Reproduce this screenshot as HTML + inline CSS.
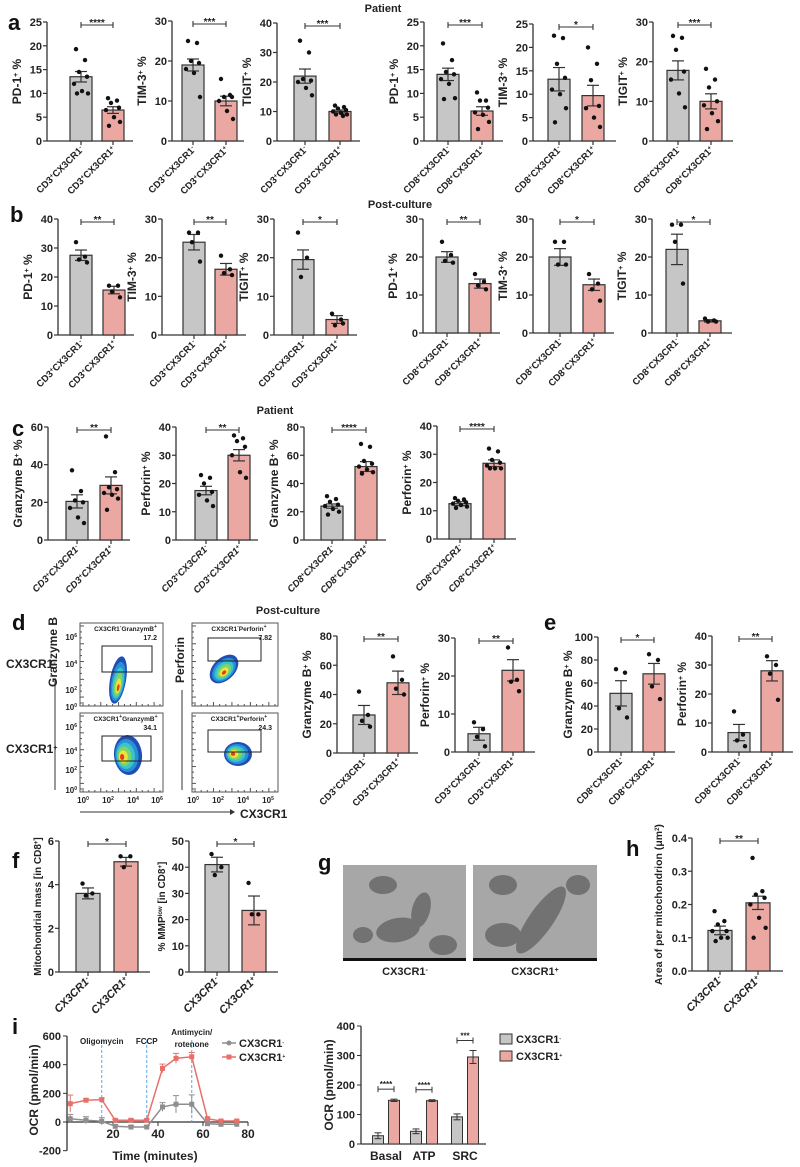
<!DOCTYPE html>
<html><head><meta charset="utf-8"><title>CX3CR1 figure</title>
<style>
html,body{margin:0;padding:0;background:#fff;}
svg{display:block;font-family:"Liberation Sans",sans-serif;}
.t{font-weight:bold;font-size:11px;fill:#222;}
.tk{font-weight:bold;font-size:11px;fill:#222;}
.xl{font-weight:bold;font-size:9.5px;fill:#222;}
.pl{font-weight:bold;font-size:22px;fill:#111;}
</style></head><body>
<svg id="fig" width="800" height="1167" viewBox="0 0 800 1167" xmlns="http://www.w3.org/2000/svg">
<text x="383" y="12" text-anchor="middle" class="t">Patient</text>
<text x="400" y="208" text-anchor="middle" class="t">Post-culture</text>
<text x="275" y="414" text-anchor="middle" class="t">Patient</text>
<text x="288" y="614" text-anchor="middle" class="t">Post-culture</text>
<text x="8" y="30" class="pl">a</text>
<text x="10" y="222" class="pl">b</text>
<text x="12" y="436" class="pl">c</text>
<text x="12" y="630" class="pl">d</text>
<text x="544" y="630" class="pl">e</text>
<text x="12" y="868" class="pl">f</text>
<text x="318" y="870" class="pl">g</text>
<text x="626" y="856" class="pl">h</text>
<text x="12" y="1034" class="pl">i</text>
</svg>
<script>
// ---- bar panel data ----
const a1Neg=[19.3,17,14.5,13.5,12,10.5,10,10], a1Pos=[9,8.5,8,7,6.5,5,4,3.2], a1Mean=[13.5,6.5], a1Err=[1.1,0.7];
const a2Neg=[25,24.5,20,19.5,18,17,11], a2Pos=[15.5,11.5,11,11,10,7.5,5.5], a2Mean=[19,10], a2Err=[1.5,1.2];
const a3Neg=[34,30,21,20.5,20,18,15.5], a3Pos=[12,11.5,11,10.5,10,9.5,9,9,8.5], a3Mean=[22,10], a3Err=[2.4,0.5];
const a4Neg=[20.5,17,14.5,14,13,12,9,8.8], a4Pos=[10.2,8.5,8.5,7,6,5.5,4,2.5], a4Mean=[14,6.3], a4Err=[1.3,0.9];
const a5Neg=[22.5,22,16.5,13.5,11,10,7,4], a5Pos=[20,16.5,13,7.5,7,5,3], a5Mean=[13.2,9.7], a5Err=[2.5,2.2];
const a6Neg=[26.5,26,23,17.5,15.5,12,8.5], a6Pos=[18.2,15.5,13.5,10,9,7,5,3], a6Mean=[17.8,10], a6Err=[2.4,1.9];
const b1Neg=[32,27,26,25], b1Pos=[17,17,15,13], b1Mean=[27.5,15.5], b1Err=[1.8,1.3];
const b2Neg=[26.5,26.5,24,19], b2Pos=[20.5,17,16,15.5], b2Mean=[24,17], b2Err=[2,1.5];
const b3Neg=[26.5,20,15], b3Pos=[5.5,4,2.5,3], b3Mean=[19.5,4], b3Err=[2.5,1];
const b4Neg=[24,20.5,19,18.5], b4Pos=[15.5,13.5,12.5,11.5], b4Mean=[20,13], b4Err=[1.4,1.2];
const b5Neg=[24,24,18,18], b5Pos=[15.5,13,11.5,8.5], b5Mean=[20,12.7], b5Err=[2.2,1.5];
const b6Neg=[28.5,28.5,24,13], b6Pos=[3.8,3.3,3,3], b6Mean=[22,3.2], b6Err=[4,0.3];
const c1Neg=[37,26,21,20,17,12,9], c1Pos=[55,36,28,27,25,24,22,16], c1Mean=[20.5,29], c1Err=[3.5,4.5];
const c2Neg=[23,22,20,17,16,14,12], c2Pos=[37,36,35,33,30,24,22], c2Mean=[17.5,30], c2Err=[1.5,2];
const c3Neg=[31,29,27,25,24,22,20,18], c3Pos=[68,66,56,54,52,50,48,47], c3Mean=[24,52], c3Err=[1.5,3.5];
const c4Neg=[14.5,14,13.5,13,12.5,12,11.5,11], c4Pos=[32,31,28,27,26,25,25,25], c4Mean=[12.5,26.8], c4Err=[0.7,1.2];
const d1Neg=[42,26,22,18], d1Pos=[66,50,44,40], d1Mean=[26,48], d1Err=[6.5,8];
const d2Neg=[7.8,6,4,1.5], d2Pos=[27.5,19,18.5,16], d2Mean=[4.8,21.5], d2Err=[1.7,2.8];
const e1Neg=[72,69,38,30], e1Pos=[85,80,57,46], e1Mean=[51,68], e1Err=[11,9];
const e2Neg=[14,6,4,2], e2Pos=[33,30,27,18], e2Mean=[6.7,28], e2Err=[2.8,3.5];
const f1Neg=[4.05,3.6,3.5], f1Pos=[5.3,5.3,4.8], f1Mean=[3.6,5.05], f1Err=[0.25,0.2];
const f2Neg=[45,40,37], f2Pos=[34,22,22], f2Mean=[41,23.5], f2Err=[2.8,5.5];
const hNeg=[0.18,0.15,0.14,0.12,0.12,0.1,0.1,0.09], hPos=[0.34,0.24,0.23,0.22,0.2,0.16,0.13,0.1], hMean=[0.122,0.205], hErr=[0.013,0.02];
// ---- panel i data ----
const iTimes=[1,8,15,21,28,35,42,48,55,62,68,75];
const iPosMean=[128,152,156,12,12,12,374,444,455,23,7,7];
const iPosErr=[60,10,12,8,8,8,30,35,30,10,6,6];
const iNegMean=[23,12,5,-30,-35,-35,105,124,124,-12,-16,-16];
const iNegErr=[30,25,25,10,10,10,30,60,65,10,10,10];
const iInjTimes=[15,35,55];
const iCats=["Basal","ATP","SRC"];
const iBarNeg=[28,43,92], iBarNegErr=[10,8,10];
const iBarPos=[148,147,295], iBarPosErr=[4,3,22];
const iSig=["****","****","***"];

const NS="http://www.w3.org/2000/svg";
const svg=document.getElementById('fig');
function mk(tag,attrs,parent){const e=document.createElementNS(NS,tag);for(const k in attrs)e.setAttribute(k,attrs[k]);(parent||svg).appendChild(e);return e;}
function txt(x,y,s,cls,parent,extra){
  const ex=Object.assign({},extra||{});
  let st='';
  if(ex['font-size']!==undefined){st+='font-size:'+ex['font-size']+'px;';delete ex['font-size'];}
  if(ex['font-style']!==undefined){st+='font-style:'+ex['font-style']+';';delete ex['font-style'];}
  const a=Object.assign({x:x,y:y,class:cls},ex);
  if(st)a.style=st;
  const e=mk('text',a,parent);e.innerHTML=s;return e;}
const GRAY="#c6c6c6",PINK="#eba8a2",STK="#333";
const jit=[-5,4,-2,6,-7,1,7,-4,3];

function barPanel(p){
  const g=mk('g',{},svg);
  
  
  const sy=v=>p.y0-(v/p.max)*(p.y0-p.yTop);
  const w=p.w||22;
  const ya=mk('line',{x1:p.ax,y1:sy(p.max),x2:p.ax,y2:p.y0,stroke:STK,'stroke-width':1.3},g);
  
  const xa=mk('line',{x1:p.ax,y1:p.y0,x2:p.end,y2:p.y0,stroke:STK,'stroke-width':1.3},g);
  
  p.ticks.forEach(t=>{
    mk('line',{x1:p.ax-4,y1:sy(t),x2:p.ax,y2:sy(t),stroke:STK,'stroke-width':1.2},g);
    const tl=txt(p.ax-5,sy(t)+4,p.tfmt?p.tfmt(t):t,'tk',g,{'text-anchor':'end'});
    
  });
  const groups=[p.neg,p.pos],cols=[GRAY,PINK];
  for(let i=0;i<2;i++){
    const cx=p.cx[i],m=p.mean[i],er=p.err[i];
    const r=mk('rect',{x:cx-w/2,y:sy(m),width:w,height:p.y0-sy(m),fill:cols[i],stroke:STK,'stroke-width':1.2},g);
    
    mk('line',{x1:cx,y1:p.y0,x2:cx,y2:p.y0+4,stroke:STK,'stroke-width':1.2},g);
    mk('line',{x1:cx,y1:sy(m+er),x2:cx,y2:sy(m-er),stroke:STK,'stroke-width':1.2},g);
    mk('line',{x1:cx-6,y1:sy(m+er),x2:cx+6,y2:sy(m+er),stroke:STK,'stroke-width':1.2},g);
    mk('line',{x1:cx-6,y1:sy(m-er),x2:cx+6,y2:sy(m-er),stroke:STK,'stroke-width':1.2},g);
    groups[i].forEach((v,k)=>{
      const c=mk('circle',{cx:cx+jit[k%jit.length]*(w/22),cy:sy(v),r:2.2,fill:'#111'},g);
      
    });
    const xl=txt(cx+3,p.y0+9,p.xl[i],'xl',g,{'text-anchor':'end',transform:`rotate(-45 ${cx+3} ${p.y0+9})`,'font-style':p.it?'italic':'normal','font-size':p.xfs||9.5});
    
  }
  const by=sy(p.max)+3;
  mk('line',{x1:p.cx[0],y1:by,x2:p.cx[1],y2:by,stroke:STK,'stroke-width':1.1},g);
  mk('line',{x1:p.cx[0],y1:by-3,x2:p.cx[0],y2:by+3,stroke:STK,'stroke-width':1.1},g);
  mk('line',{x1:p.cx[1],y1:by-3,x2:p.cx[1],y2:by+3,stroke:STK,'stroke-width':1.1},g);
  const st=txt((p.cx[0]+p.cx[1])/2,by+1,p.sig,'tk',g,{'text-anchor':'middle','font-size':10});
  
  const ly=(sy(p.max)+p.y0)/2, lx=p.ax-(p.lo||26);
  const yl=txt(lx,ly,p.yl,'t',g,{'text-anchor':'middle',transform:`rotate(-90 ${lx} ${ly})`,'font-size':p.yfs||12});
  
}
const n3=['CD3<tspan baseline-shift="super" style="font-size:6px">+</tspan>CX3CR1<tspan baseline-shift="super" style="font-size:6px">-</tspan>','CD3<tspan baseline-shift="super" style="font-size:6px">+</tspan>CX3CR1<tspan baseline-shift="super" style="font-size:6px">+</tspan>'];
const n8=['CD8<tspan baseline-shift="super" style="font-size:6px">+</tspan>CX3CR1<tspan baseline-shift="super" style="font-size:6px">-</tspan>','CD8<tspan baseline-shift="super" style="font-size:6px">+</tspan>CX3CR1<tspan baseline-shift="super" style="font-size:6px">+</tspan>'];
const nc=['CX3CR1<tspan baseline-shift="super" style="font-size:7px">-</tspan>','CX3CR1<tspan baseline-shift="super" style="font-size:7px">+</tspan>'];
const sp=s=>s+'<tspan baseline-shift="super" style="font-size:7px">+</tspan> %';
const T=(n,s)=>{const a=[];for(let v=0;v<=n+1e-9;v+=s)a.push(+v.toFixed(2));return a;};
const P=[
 {id:'a1',ax:47,y0:141,yTop:22,max:25,ticks:T(25,5),cx:[81,113],end:133,neg:a1Neg,pos:a1Pos,mean:a1Mean,err:a1Err,sig:'****',yl:sp('PD-1'),xl:n3},
 {id:'a2',ax:172,y0:141,yTop:21,max:30,ticks:T(30,10),cx:[193,226],end:244,neg:a2Neg,pos:a2Pos,mean:a2Mean,err:a2Err,sig:'***',yl:sp('TIM-3'),xl:n3},
 {id:'a3',ax:277,y0:141,yTop:23,max:40,ticks:T(40,10),cx:[305,340],end:360,neg:a3Neg,pos:a3Pos,mean:a3Mean,err:a3Err,sig:'***',yl:sp('TIGIT'),xl:n3},
 {id:'a4',ax:424,y0:141,yTop:22,max:25,ticks:T(25,5),cx:[448,482],end:503,neg:a4Neg,pos:a4Pos,mean:a4Mean,err:a4Err,sig:'***',yl:sp('PD-1'),xl:n8},
 {id:'a5',ax:533,y0:141,yTop:24,max:25,ticks:T(25,5),cx:[559,593],end:616,neg:a5Neg,pos:a5Pos,mean:a5Mean,err:a5Err,sig:'*',yl:sp('TIM-3'),xl:n8},
 {id:'a6',ax:653,y0:141,yTop:22,max:30,ticks:T(30,10),cx:[678,711],end:733,neg:a6Neg,pos:a6Pos,mean:a6Mean,err:a6Err,sig:'***',yl:sp('TIGIT'),xl:n8},
 {id:'b1',ax:58,y0:335,yTop:219,max:40,ticks:T(40,10),cx:[81,114],end:134,neg:b1Neg,pos:b1Pos,mean:b1Mean,err:b1Err,sig:'**',yl:sp('PD-1'),xl:n3},
 {id:'b2',ax:162,y0:335,yTop:219,max:30,ticks:T(30,10),cx:[194,226],end:246,neg:b2Neg,pos:b2Pos,mean:b2Mean,err:b2Err,sig:'**',yl:sp('TIM-3'),xl:n3},
 {id:'b3',ax:274,y0:335,yTop:219,max:30,ticks:T(30,10),cx:[303,337],end:357,neg:b3Neg,pos:b3Pos,mean:b3Mean,err:b3Err,sig:'*',yl:sp('TIGIT'),xl:n3},
 {id:'b4',ax:423,y0:333,yTop:219,max:30,ticks:T(30,10),cx:[447,480],end:500,neg:b4Neg,pos:b4Pos,mean:b4Mean,err:b4Err,sig:'**',yl:sp('PD-1'),xl:n8},
 {id:'b5',ax:533,y0:333,yTop:219,max:30,ticks:T(30,10),cx:[560,594],end:614,neg:b5Neg,pos:b5Pos,mean:b5Mean,err:b5Err,sig:'*',yl:sp('TIM-3'),xl:n8},
 {id:'b6',ax:652,y0:333,yTop:219,max:30,ticks:T(30,10),cx:[677,710],end:732,neg:b6Neg,pos:b6Pos,mean:b6Mean,err:b6Err,sig:'*',yl:sp('TIGIT'),xl:n8},
 {id:'c1',ax:48,y0:540,yTop:427,max:60,ticks:T(60,20),cx:[77,111],end:130,neg:c1Neg,pos:c1Pos,mean:c1Mean,err:c1Err,sig:'**',yl:sp('Granzyme B'),xl:n3,it:1},
 {id:'c2',ax:176,y0:540,yTop:427,max:40,ticks:T(40,10),cx:[206,239],end:258,neg:c2Neg,pos:c2Pos,mean:c2Mean,err:c2Err,sig:'**',yl:sp('Perforin'),xl:n3,it:1},
 {id:'c3',ax:304,y0:540,yTop:427,max:80,ticks:T(80,20),cx:[332,366],end:386,neg:c3Neg,pos:c3Pos,mean:c3Mean,err:c3Err,sig:'****',yl:sp('Granzyme B'),xl:n8,it:1},
 {id:'c4',ax:437,y0:539,yTop:426,max:40,ticks:T(40,10),cx:[460,494],end:516,neg:c4Neg,pos:c4Pos,mean:c4Mean,err:c4Err,sig:'****',yl:sp('Perforin'),xl:n8,it:1},
 {id:'d1',ax:337,y0:753,yTop:636,max:80,ticks:T(80,20),cx:[364,398],end:418,neg:d1Neg,pos:d1Pos,mean:d1Mean,err:d1Err,sig:'**',yl:sp('Granzyme B'),xl:n3},
 {id:'d2',ax:455,y0:752,yTop:638,max:30,ticks:T(30,10),cx:[479,513],end:535,neg:d2Neg,pos:d2Pos,mean:d2Mean,err:d2Err,sig:'**',yl:sp('Perforin'),xl:n3},
 {id:'e1',ax:598,y0:752,yTop:637,max:100,ticks:T(100,20),cx:[621,654],end:675,neg:e1Neg,pos:e1Pos,mean:e1Mean,err:e1Err,sig:'*',yl:sp('Granzyme B'),xl:n8},
 {id:'e2',ax:712,y0:752,yTop:636,max:40,ticks:T(40,10),cx:[739,772],end:793,neg:e2Neg,pos:e2Pos,mean:e2Mean,err:e2Err,sig:'**',yl:sp('Perforin'),xl:n8},
 {id:'f1',ax:59,y0:972,yTop:841,max:6,ticks:T(6,2),cx:[88,126],end:150,w:24,neg:f1Neg,pos:f1Pos,mean:f1Mean,err:f1Err,sig:'*',yl:'Mitochondrial mass [in CD8<tspan baseline-shift="super" style="font-size:6px">+</tspan>]',yfs:10,lo:18,xl:nc,it:1,xfs:11},
 {id:'f2',ax:189,y0:972,yTop:841,max:50,ticks:T(50,10),cx:[217,254],end:278,w:24,neg:f2Neg,pos:f2Pos,mean:f2Mean,err:f2Err,sig:'*',yl:'% MMP<tspan baseline-shift="super" style="font-size:6px">low</tspan> [in CD8<tspan baseline-shift="super" style="font-size:6px">+</tspan>]',yfs:10,lo:24,xl:nc,it:1,xfs:11},
 {id:'h',ax:692,y0:971,yTop:838,max:0.4,ticks:T(0.4,0.1),tfmt:t=>t.toFixed(1),cx:[720,758],end:783,w:24,neg:hNeg,pos:hPos,mean:hMean,err:hErr,sig:'**',yl:'Area of per mitochondrion (μm<tspan baseline-shift="super" style="font-size:6px">2</tspan>)',yfs:10.5,lo:30,xl:nc,it:1,xfs:11}
];
P.forEach(barPanel);

// ---- flow plots (d) ----
function flow(x0,y0,x1,y1,id,gate,lab,num,blob){
  const g=mk('g',{},svg);
  
  
  mk('rect',{x:x0,y:y0,width:x1-x0,height:y1-y0,fill:'#fff',stroke:'#555','stroke-width':1},g);
  for(let k=0;k<14;k++){const x=x0+3+k*(x1-x0-6)/13;mk('line',{x1:x,y1:y1,x2:x,y2:y1-(k%3?2:4),stroke:'#555','stroke-width':1},g);}
  for(let k=0;k<14;k++){const y=y0+3+k*(y1-y0-6)/13;mk('line',{x1:x0,y1:y,x2:x0+(k%3?2:4),y2:y,stroke:'#555','stroke-width':1},g);}
  const cs=['#1f4fb5','#2a8fd6','#38c6c8','#7ed36a','#e9e43a','#e83b1c'];
  cs.forEach((c,i)=>{const f=1-i*0.17;mk('ellipse',{cx:blob[0]+i*blob[4],cy:blob[1]+i*blob[5],rx:blob[2]*f,ry:blob[3]*f,fill:c,transform:`rotate(${blob[6]} ${blob[0]} ${blob[1]})`},g);});
  mk('rect',{x:gate[0],y:gate[1],width:gate[2]-gate[0],height:gate[3]-gate[1],fill:'none',stroke:'#222','stroke-width':1},g);
  txt((x0+x1)/2+4,y0+8,lab,'tk',g,{'text-anchor':'middle','font-size':6.5});
  txt(x1-6,y0+17,num,'tk',g,{'text-anchor':'end','font-size':7});
}
const sup=(s,f)=>`<tspan baseline-shift="super" style="font-size:${f||5}px">${s}</tspan>`;
flow(80,623,163,706,'flow-neg-granzyme',[102,646,152,672],'CX3CR1'+sup('-')+'GranzymB'+sup('+'),'17.2',[118,680,8,24,0.3,1.5,10]);
flow(192,623,278,706,'flow-neg-perforin',[208,638,261,661],'CX3CR1'+sup('-')+'Perforin'+sup('+'),'7.82',[224,669,11,17,0.5,0.5,45]);
flow(80,713,163,792,'flow-pos-granzyme',[102,736,151,761],'CX3CR1'+sup('+')+'GranzymB'+sup('+'),'34.1',[128,755,14,20,-1.2,0.3,-5]);
flow(192,713,278,792,'flow-pos-perforin',[208,730,261,752],'CX3CR1'+sup('+')+'Perforin'+sup('+'),'24.3',[238,754,14,12,-1,0,0]);
[[637,'6'],[664,'4'],[690,'2'],[707,'0'],[727,'6'],[751,'4'],[770,'2'],[790,'0']].forEach(a=>{const t=txt(77,a[0]+3,'10'+sup(a[1]),'tk',null,{'text-anchor':'end','font-size':8});});
[[83,'0'],[108,'2'],[133,'4'],[157,'6'],[193,'0'],[218,'2'],[243,'4'],[268,'5']].forEach(a=>{const t=txt(a[0],803,'10'+sup(a[1]),'tk',null,{'text-anchor':'middle','font-size':8});});
mk('line',{x1:55,y1:790,x2:55,y2:680,stroke:'#333','stroke-width':1});
mk('line',{x1:182,y1:790,x2:182,y2:690,stroke:'#333','stroke-width':1});
mk('line',{x1:80,y1:812,x2:230,y2:812,stroke:'#333','stroke-width':1});
mk('path',{d:'M230,809 L235,812 L230,815 Z',fill:'#333'});
txt(57,652,'Granzyme B','t',null,{'text-anchor':'middle',transform:'rotate(-90 57 652)','font-size':12});
txt(184,660,'Perforin','t',null,{'text-anchor':'middle',transform:'rotate(-90 184 660)','font-size':12});
txt(6,668,'CX3CR1'+sup('-',7),'t',null,{'font-size':12});
txt(6,753,'CX3CR1'+sup('+',7),'t',null,{'font-size':12});
txt(240,818,'CX3CR1','t',null,{'font-size':12});

// ---- EM images (g) ----
function em(x0,x1,id,ells){
  const g=mk('g',{},svg);
  
  
  mk('rect',{x:x0,y:865,width:x1-x0,height:96,fill:'#a7a7a7'},g);
  ells.forEach(e=>mk('ellipse',{cx:x0+e[0],cy:865+e[1],rx:e[2],ry:e[3],fill:'#727272',transform:`rotate(${e[4]} ${x0+e[0]} ${865+e[1]})`},g));
  mk('rect',{x:x0,y:958,width:x1-x0,height:3,fill:'#111'},g);
}
em(343,466,'em-image-neg',[[40,20,14,9,0],[55,65,22,12,-10],[78,45,9,18,15],[100,80,14,10,0],[20,70,10,8,0]]);
em(473,597,'em-image-pos',[[30,20,14,10,0],[68,55,12,40,35],[30,70,18,12,0],[105,20,12,10,0]]);
txt(405,975,'CX3CR1'+sup('-',7),'t',null,{'text-anchor':'middle'});
txt(535,975,'CX3CR1'+sup('+',7),'t',null,{'text-anchor':'middle'});

// ---- i left: OCR time course ----
(function(){
  const g=mk('g',{},svg);
  
  
  const X=t=>68+t/60*135, Y=v=>1122-v/600*86;
  mk('line',{x1:67,y1:Y(600),x2:67,y2:Y(-200),stroke:STK,'stroke-width':1.3},g);
  mk('line',{x1:67,y1:Y(0),x2:248,y2:Y(0),stroke:STK,'stroke-width':1.3},g);
  [-200,0,200,400,600].forEach(v=>{mk('line',{x1:63,y1:Y(v),x2:67,y2:Y(v),stroke:STK},g);txt(61,Y(v)+4,v,'tk',g,{'text-anchor':'end'});});
  [20,40,60,80].forEach(v=>{mk('line',{x1:X(v),y1:Y(0),x2:X(v),y2:Y(0)+4,stroke:STK},g);txt(X(v),Y(0)+16,v,'tk',g,{'text-anchor':'middle','font-size':12});});
  iInjTimes.forEach(t=>{const l=mk('line',{x1:X(t),y1:1040,x2:X(t),y2:Y(0),stroke:'#5aa7e0','stroke-dasharray':'3,2'},g);});
  txt(X(15),1044,'Oligomycin','tk',g,{'text-anchor':'middle','font-size':8});
  txt(X(35),1044,'FCCP','tk',g,{'text-anchor':'middle','font-size':8});
  txt(X(55),1035,'Antimycin/','tk',g,{'text-anchor':'middle','font-size':8});
  txt(X(55),1047,'rotenone','tk',g,{'text-anchor':'middle','font-size':8});
  [[iNegMean,iNegErr,'#8e8e8e','series-neg'],[iPosMean,iPosErr,'#e8706a','series-pos']].forEach(s=>{
    const l=mk('polyline',{points:iTimes.map((t,k)=>X(t)+','+Y(s[0][k])).join(' '),fill:'none',stroke:s[2],'stroke-width':1.5},g);
    
    iTimes.forEach((t,k)=>{
      mk('line',{x1:X(t),y1:Y(s[0][k]+s[1][k]),x2:X(t),y2:Y(s[0][k]-s[1][k]),stroke:s[2]},g);
      mk('line',{x1:X(t)-3,y1:Y(s[0][k]+s[1][k]),x2:X(t)+3,y2:Y(s[0][k]+s[1][k]),stroke:s[2]},g);
      const m=mk('rect',{x:X(t)-2.5,y:Y(s[0][k])-2.5,width:5,height:5,fill:s[2]},g);
      
    });
  });
  mk('line',{x1:222,y1:1043,x2:236,y2:1043,stroke:'#8e8e8e','stroke-width':1.5},g);
  mk('circle',{cx:229,cy:1043,r:2.5,fill:'#8e8e8e'},g);
  txt(239,1047,'CX3CR1'+sup('-'),'tk',g,{});
  mk('line',{x1:222,y1:1057,x2:236,y2:1057,stroke:'#e8706a','stroke-width':1.5},g);
  mk('rect',{x:226.5,y:1054.5,width:5,height:5,fill:'#e8706a'},g);
  txt(239,1061,'CX3CR1'+sup('+'),'tk',g,{});
  txt(38,1090,'OCR (pmol/min)','t',g,{'text-anchor':'middle',transform:'rotate(-90 38 1090)','font-size':12});
  txt(155,1160,'Time (minutes)','t',g,{'text-anchor':'middle','font-size':12});
})();

// ---- i right: OCR bars ----
(function(){
  const g=mk('g',{},svg);
  
  
  const Y=v=>1144-v/400*118, xc=[386,424,465], bw=11;
  mk('line',{x1:361,y1:Y(400),x2:361,y2:Y(0),stroke:STK,'stroke-width':1.3},g);
  mk('line',{x1:361,y1:Y(0),x2:486,y2:Y(0),stroke:STK,'stroke-width':1.3},g);
  [0,100,200,300,400].forEach(v=>{mk('line',{x1:357,y1:Y(v),x2:361,y2:Y(v),stroke:STK},g);txt(355,Y(v)+4,v,'tk',g,{'text-anchor':'end'});});
  iCats.forEach((c,k)=>{
    [[iBarNeg,iBarNegErr,GRAY,-8,'bar-neg'],[iBarPos,iBarPosErr,PINK,8,'bar-pos']].forEach(s=>{
      const x=xc[k]+s[3];
      const r=mk('rect',{x:x-bw/2,y:Y(s[0][k]),width:bw,height:Y(0)-Y(s[0][k]),fill:s[2],stroke:STK,'stroke-width':1},g);
      
      mk('line',{x1:x,y1:Y(s[0][k]+s[1][k]),x2:x,y2:Y(s[0][k]-s[1][k]),stroke:STK},g);
      mk('line',{x1:x-3.5,y1:Y(s[0][k]+s[1][k]),x2:x+3.5,y2:Y(s[0][k]+s[1][k]),stroke:STK},g);
      mk('line',{x1:x-3.5,y1:Y(s[0][k]-s[1][k]),x2:x+3.5,y2:Y(s[0][k]-s[1][k]),stroke:STK},g);
    });
    const top=Y(iBarPos[k]+iBarPosErr[k])-10;
    mk('line',{x1:xc[k]-8,y1:top,x2:xc[k]+8,y2:top,stroke:STK},g);
    mk('line',{x1:xc[k]-8,y1:top-3,x2:xc[k]-8,y2:top+3,stroke:STK},g);
    mk('line',{x1:xc[k]+8,y1:top-3,x2:xc[k]+8,y2:top+3,stroke:STK},g);
    txt(xc[k],top-2,iSig[k],'tk',g,{'text-anchor':'middle','font-size':8});
    const l=txt(xc[k],1160,c,'t',g,{'text-anchor':'middle','font-size':12});
    
  });
  mk('rect',{x:500,y:1034,width:12,height:10,fill:GRAY,stroke:STK},g);
  txt(516,1043,'CX3CR1'+sup('-'),'tk',g,{});
  mk('rect',{x:500,y:1051,width:12,height:10,fill:PINK,stroke:STK},g);
  txt(516,1060,'CX3CR1'+sup('+'),'tk',g,{});
  txt(333,1085,'OCR (pmol/min)','t',g,{'text-anchor':'middle',transform:'rotate(-90 333 1085)','font-size':12});
})();
</script>
</body></html>
